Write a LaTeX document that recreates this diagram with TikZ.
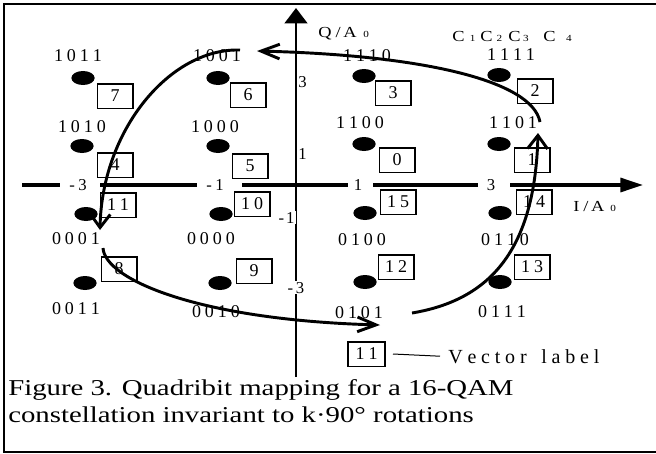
\documentclass[tikz,border=0pt]{standalone}
\usepackage{fontspec}
\setmainfont{Liberation Serif}
\newfontfamily\capfont[FakeStretch=1.27]{Liberation Serif}
\newfontfamily\axfont[FakeStretch=1.2]{Liberation Serif}
\usetikzlibrary{arrows.meta,shapes.geometric}
\newdimen\myls
\myls=3pt
\def\qqsp#1{\qqspA#1\relax}
\def\qqspA#1{#1\qqspB}
\def\qqspB#1{\ifx#1\relax\else\kern\myls\relax #1\expandafter\qqspB\fi}
\newcommand{\subz}[1]{{\fontsize{7}{7}\selectfont #1}}
\begin{document}
\begin{tikzpicture}[x=0.75pt,y=-0.75pt,
  dot/.style={ellipse,fill=black,minimum width=17.5pt,minimum height=10.5pt,inner sep=0pt},
  bits/.style={font=\fontsize{13.5}{13.5}\selectfont,inner sep=0pt},
  vbox/.style={draw,line width=1.25pt,minimum width=26.5pt,minimum height=18.5pt,inner sep=0pt,font=\fontsize{13.5}{13.5}\selectfont},
  tick/.style={font=\fontsize{12.5}{12.5}\selectfont,inner sep=0pt,anchor=base},
  axlbl/.style={font=\axfont\fontsize{11.5}{11.5}\selectfont,inner sep=0pt,anchor=base west},
  rot/.style={line width=2.2pt},
  hbarb/.style={-{Straight Barb[length=14pt,width=11pt]}},
  vbarb/.style={-{Straight Barb[length=10pt,width=15pt]}},
]
\useasboundingbox (0,0) rectangle (656,453);
% frame
\draw[line width=1.5pt] (660,3.7) -- (3.7,3.7) -- (3.7,451.6) -- (660,451.6);
% axes
\coordinate (h0) at (22,185); \coordinate (h1) at (60,185);
\coordinate (h2) at (100,185); \coordinate (h3) at (197,185);
\coordinate (h4) at (242,185); \coordinate (h5) at (348,185);
\coordinate (h6) at (373,185); \coordinate (h7) at (478,185);
\coordinate (h8) at (510,185); \coordinate (h9) at (643,185);
\draw[line width=2.4pt] (h0) -- (h1) (h2) -- (h3) (h4) -- (h5) (h6) -- (h7);
\draw[line width=2.4pt,-{Triangle[length=17pt,width=10.5pt]}] (h8) -- (h9);
\coordinate (v0) at (296,377); \coordinate (v1) at (296,8);
\draw[line width=1.7pt,-{Triangle[length=11.5pt,width=17pt]}] (v0) -- (v1);
% tick labels
\node[tick] (tm3) at (78,190) {-\kern2.5pt 3};
\node[tick] (tm1) at (215,190) {-\kern2.5pt 1};
\node[tick] (tp1) at (358,190) {1};
\node[tick] (tp3) at (491,190) {3};
\node[tick,anchor=base west] (vp3) at (298,87) {3};
\node[tick,anchor=base west] (vp1) at (298,159) {1};
\node[tick,anchor=base east,fill=white,inner sep=1pt] (vm1) at (296,223) {-\kern1.5pt 1};
\node[tick,fill=white,inner sep=1pt] (vm3) at (296,293) {-\kern2pt 3};
% axis labels
\node[axlbl] (qlab) at (318,38) {Q\kern3pt/\kern2pt A\kern5pt\subz{0}};
\node[axlbl] (ilab) at (573,211) {I\kern3pt/\kern2pt A\kern4.5pt\subz{0}};
\node[axlbl] (c1) at (452,41) {C\kern4pt\subz{1}};
\node[axlbl] (c2) at (480,41) {C\kern3pt\subz{2}};
\node[axlbl] (c3) at (508,41) {C\kern2pt\subz{3}};
\node[axlbl] (c4) at (543,41) {C\kern8pt\subz{4}};
% constellation points
\node[dot] (d7) at (83,78) {};   \node[dot] (d6) at (218,78) {};
\node[dot] (d3) at (364,76) {};  \node[dot] (d2) at (499,75) {};
\node[dot] (d4) at (82,146) {};  \node[dot] (d5) at (218,146) {};
\node[dot] (d0) at (364,144) {}; \node[dot] (d1) at (499,144) {};
\node[dot] (d11) at (86,214) {}; \node[dot] (d10) at (221,214) {};
\node[dot] (d15) at (365,213) {};\node[dot] (d14) at (500,213) {};
\node[dot] (d8) at (85,283) {};  \node[dot] (d9) at (220,283) {};
\node[dot] (d12) at (365,282) {};\node[dot] (d13) at (500,282) {};
% quadribit labels
\node[bits] (q7) at (78,56) {\qqsp{1011}};
\node[bits] (q6) at (217,56) {\qqsp{1001}};
\node[bits] (q3) at (367,56) {\qqsp{1110}};
\node[bits] (q2) at (511,55) {\qqsp{1111}};
\node[bits] (q4) at (82,127) {\qqsp{1010}};
\node[bits] (q5) at (215,127) {\qqsp{1000}};
\node[bits] (q0) at (360,123) {\qqsp{1100}};
\node[bits] (q1) at (513,123) {\qqsp{1101}};
\node[bits] (q11) at (76,239) {\qqsp{0001}};
\node[bits] (q10) at (211,239) {\qqsp{0000}};
\node[bits] (q15) at (362,240) {\qqsp{0100}};
\node[bits] (q14) at (505,240) {\qqsp{0110}};
\node[bits] (q8) at (76,309) {\qqsp{0011}};
\node[bits] (q9) at (216,312) {\qqsp{0010}};
\node[bits] (q12) at (359,313) {\qqsp{0101}};
\node[bits] (q13) at (502,312) {\qqsp{0111}};
% vector labels
\node[vbox] (b7) at (115,96) {7};
\node[vbox] (b6) at (248,95) {6};
\node[vbox] (b3) at (393,93) {3};
\node[vbox] (b2) at (535,91) {2};
\node[vbox] (b4) at (115,165) {4};
\node[vbox] (b5) at (250,166) {5};
\node[vbox] (b0) at (397,160) {0};
\node[vbox] (b1) at (532,160) {1};
\node[vbox] (b11) at (118,205) {\qqsp{11}};
\node[vbox] (b10) at (252,204) {\qqsp{10}};
\node[vbox] (b15) at (398,202) {\qqsp{15}};
\node[vbox] (b14) at (534,202) {\qqsp{14}};
\node[vbox] (b8) at (119,269) {8};
\node[vbox] (b9) at (254,271) {9};
\node[vbox] (b12) at (396,267) {\qqsp{12}};
\node[vbox] (b13) at (532,267) {\qqsp{13}};
% rotation arcs
\coordinate (a1s) at (540,122); \coordinate (a1e) at (257,51);
\coordinate (a2s) at (240,50);  \coordinate (a2e) at (100,230);
\coordinate (a3s) at (103,248); \coordinate (a3e) at (380,325);
\coordinate (a4s) at (412,313); \coordinate (a4e) at (538,133);
\draw[rot,hbarb] (a1s) .. controls (532,80) and (420,55) .. (a1e);
\draw[rot,vbarb] (a2s) .. controls (170,48) and (102,130) .. (a2e);
\draw[rot,hbarb] (a3s) .. controls (105,280) and (200,320) .. (a3e);
\draw[rot,vbarb] (a4s) .. controls (490,300) and (535,250) .. (a4e);
% legend
\node[vbox,minimum width=27.5pt] (lb) at (366.5,354) {\qqsp{11}};
\node[anchor=base west,inner sep=0pt,font=\fontsize{15}{15}\selectfont] (vl) at (448,363) {\myls=3.6pt\relax\qqsp{Vector~label}};
\draw[line width=0.75pt] ([xshift=5.5pt]lb.east) -- ([xshift=-6pt]vl.west);
% caption
\node[anchor=base west,inner sep=0pt,font=\capfont\fontsize{17}{17}\selectfont] (cap1) at (8,395) {Figure 3. Quadribit mapping for a 16-QAM};
\node[anchor=base west,inner sep=0pt,font=\capfont\fontsize{17}{17}\selectfont] (cap2) at (8,422) {constellation invariant to k·90° rotations};
\end{tikzpicture}
\end{document}
